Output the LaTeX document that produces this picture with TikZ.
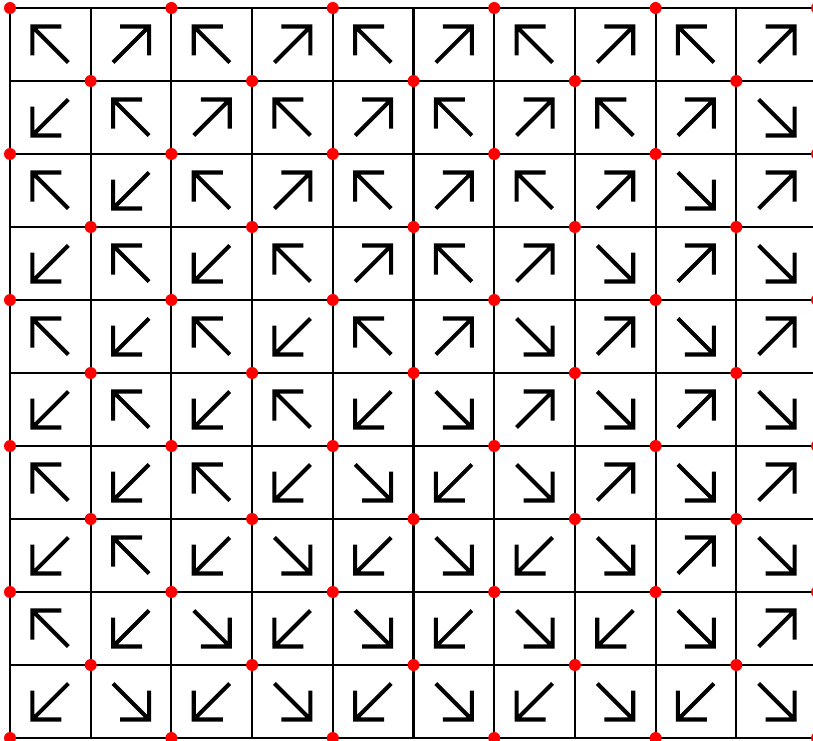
\documentclass[tikz,border=0pt]{standalone}
\usepackage{tikz}

\begin{document}
\begin{tikzpicture}[x=0.02cm, y=0.02cm,
    gridline/.style={draw, line width=1.2pt},
    arrowline/.style={draw, line width=2.3pt, line join=miter},
    dot/.style={fill=red}]

    % Frame
    \useasboundingbox (0,0) rectangle (813,-740);

    % Grid
    \foreach \i in {0,...,10} {
      \draw [gridline] (10+80.7*\i,-8) -- (10+80.7*\i,-738);
      \draw [gridline] (10,-8-73*\i) -- (813,-8-73*\i);
    }

    % Arrows (0 = up right, 1 = up left, 2 = down left, 3 = down right)
    \foreach \row [count=\r from 0] in {
        {1,0,1,0,1,0,1,0,1,0},
        {2,1,0,1,0,1,0,1,0,3},
        {1,2,1,0,1,0,1,0,3,0},
        {2,1,2,1,0,1,0,3,0,3},
        {1,2,1,2,1,0,3,0,3,0},
        {2,1,2,1,2,3,0,3,0,3},
        {1,2,1,2,3,2,3,0,3,0},
        {2,1,2,3,2,3,2,3,0,3},
        {1,2,3,2,3,2,3,2,3,0},
        {2,3,2,3,2,3,2,3,2,3}} {
      \foreach \d [count=\c from 0] in \row {
        \draw [arrowline, shift={(50.35+80.7*\c,-44.5-73*\r)}, rotate=90*\d]
          (-18,-18) -- (18,18) (-11,18) -- (18,18) -- (18,-11);
      }
    }

    % Red dots
    \foreach \j in {0,...,10}
      \foreach \i in {0,2,...,10} {
        \pgfmathtruncatemacro\k{\i+mod(\j,2)}
        \ifnum\k<11 \fill [dot] (10+80.7*\k,-8-73*\j) circle [radius=1.2mm]; \fi
      }
\end{tikzpicture}
\end{document}
